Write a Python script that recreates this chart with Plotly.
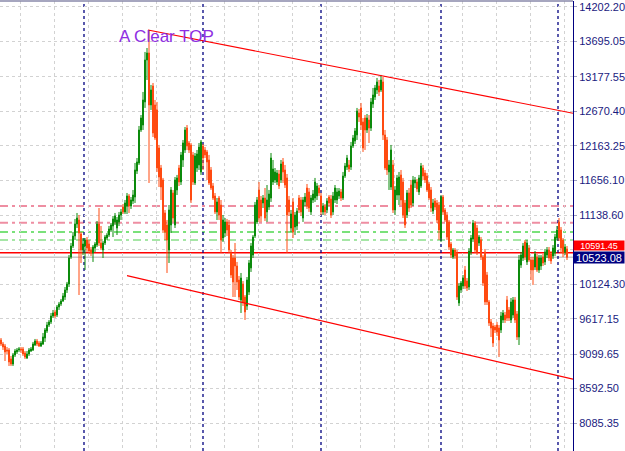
import plotly.graph_objects as go

# ---- candle data (price units), one bar per period ----
opens = [9307,9248,9219,9160,9160,9028,8954,9086,9131,9160,
9175,9175,9116,9042,9101,9145,9160,9233,9292,9263,
9219,9248,9336,9439,9527,9572,9660,9719,9674,9792,
9836,9880,9939,10042,10130,10527,10689,10836,11012,11071,
10865,10630,10689,10777,10718,10630,10586,10659,10703,11012,
10733,10630,10733,10806,10850,10924,10983,11042,10953,11042,
11144,11262,11189,11277,11424,11277,11350,11409,11791,11909,
12394,12467,12806,13423,13526,12762,13041,12762,12688,12129,
11835,11659,11174,10997,10630,10997,11468,10997,11512,11835,
11630,11953,12100,12423,12203,12174,12027,11615,11835,11880,
11777,12159,12100,12071,11953,11806,11571,11424,11189,11394,
11291,10806,10880,11042,10997,10586,10512,10512,10395,10189,
9895,10130,9939,9807,10013,10366,10556,10836,11042,11512,
11365,11321,11394,11189,11262,11394,11630,11659,11630,11747,
11659,11924,11806,11689,11365,10953,11336,10968,10983,11394,
11365,11100,11336,11541,11483,11189,11365,11394,11424,11541,
11424,11189,11262,11218,11409,11380,11189,11365,11365,11424,
11483,11394,11718,11850,11880,11850,12159,12232,12321,12644,
12718,12512,12570,12394,12541,12423,12776,12879,12982,13041,
12982,13100,12321,12247,11777,11556,11880,11218,11438,11438,
11733,11630,11321,11144,11468,11585,11321,11615,11630,11483,
11571,11835,11762,11718,11600,11512,11203,11350,11321,11291,
10806,11409,11218,11144,11042,10718,10527,10630,10586,9851,
10042,10101,10336,10174,10086,10601,10791,11027,10953,10733,
10777,10527,10601,10262,9866,9572,9513,9498,9527,9483,
9454,9601,9674,9895,9748,9601,9674,9895,9689,9351,
10409,10512,10748,10454,10659,10483,10483,10380,10527,10336,
10395,10527,10454,10556,10630,10571,10542,10586,10806,11042,
10924,10777,10601,10645]

highs = [9336,9278,9248,9204,9189,9072,9116,9175,9189,9204,
9204,9204,9145,9145,9189,9204,9278,9322,9322,9292,
9292,9410,9483,9572,9601,9704,9748,9748,9821,9866,
9910,9998,10086,10160,10556,10733,10895,11086,11174,11144,
10895,10806,10806,10821,10777,10674,10703,10748,11056,11247,
10983,10762,10850,10880,10983,11027,11130,11174,11115,11189,
11233,11306,11365,11468,11453,11409,11512,11909,11982,12453,
12614,12953,13541,13599,13864,13056,13085,12835,12806,12174,
11880,11689,11218,11071,11291,11556,11512,11703,11733,11880,
12071,12247,12438,12467,12232,12203,12071,12056,12100,12203,
12247,12188,12144,12100,12027,11850,11615,11468,11394,11424,
11365,11144,11100,11086,11071,10630,10556,10733,10454,10248,
10292,10174,9968,10233,10483,10733,10850,11336,11409,11630,
11424,11438,11541,11585,11512,12056,11953,11835,11806,11806,
11953,11982,11880,11747,11424,11218,11394,11189,11247,11438,
11409,11409,11468,11600,11541,11438,11512,11689,11615,11585,
11468,11321,11306,11394,11438,11438,11483,11585,11541,11541,
11527,11777,11909,12027,11953,12218,12321,12423,12718,12703,
12791,12570,12614,12629,12614,12864,13012,13056,13159,13129,
13203,13174,12394,12291,11953,12174,11953,11571,11733,11777,
11806,11689,11365,11512,11541,11659,11718,11703,11674,11733,
11909,11880,11806,11762,11630,11556,11380,11394,11365,11336,
11438,11438,11247,11189,11071,10748,10659,10659,10630,10145,
10174,10262,10395,10218,10659,10850,11071,11056,10997,10850,
10821,10556,10645,10307,9895,9616,9557,9527,9572,9527,
9719,9748,9719,9954,9792,9924,9939,9939,9733,10556,
10601,10733,10777,10777,10703,10527,10527,10615,10571,10556,
10556,10571,10645,10674,10674,10615,10703,10865,10983,11100,
10968,10806,10718,10689]

lows = [9219,9160,8998,9101,8925,8925,8925,9057,9101,9131,
9116,9072,9028,9028,9072,9131,9145,9219,9219,9204,
9204,9233,9278,9410,9498,9542,9630,9630,9645,9748,
9807,9866,9895,9998,10086,10498,10659,10777,10953,9968,
10439,10556,10336,10601,10571,10542,10454,10601,10674,10689,
10630,10512,10703,10777,10821,10895,10821,10997,10850,10983,
11071,11159,11159,11159,11174,11233,11306,11321,11747,11880,
12365,12394,12718,13129,11615,12688,12291,12247,11777,11556,
11365,10880,10777,10292,10439,10880,11042,10953,11438,11571,
11585,11850,12056,12100,12056,11321,11585,11585,11777,11806,
11733,11806,11982,11659,11585,11512,11365,11159,11071,11071,
10586,10748,10821,10836,10586,10218,9939,9939,10042,9895,
9704,9807,9601,9748,9968,10307,10512,10806,11012,11042,
11042,11247,11056,11042,11218,11336,11585,11615,11585,11527,
11615,11615,11541,10586,11130,10895,10806,10850,10924,11174,
11130,11042,11277,11233,11189,11144,11321,11336,11365,11424,
11144,11144,11144,11174,11277,11100,11144,11321,11306,11380,
11350,11365,11689,11806,11777,11806,12129,12188,12247,12512,
12394,12071,12100,12350,12203,12379,12718,12835,12923,12894,
12953,12247,11806,11733,11512,11512,11174,11144,11365,11291,
11291,11100,10953,11100,11189,11247,11277,11541,11483,11438,
11541,11659,11615,11483,11365,11189,11159,11218,11027,10777,
10748,11144,11042,10777,10630,10512,10498,10498,9895,9807,
9998,10057,10057,10027,10042,10556,10748,10586,10556,10689,
10483,10101,9821,9821,9513,9351,9204,9410,9366,9057,
9410,9557,9557,9586,9586,9557,9630,9557,9307,9233,
10366,10468,10483,10409,10454,10189,10116,10336,10307,10292,
10336,10395,10409,10512,10468,10424,10498,10542,10777,10762,
10586,10527,10556,10483]

closes = [9248,9204,9131,9145,8984,8954,9086,9145,9160,9175,
9160,9101,9057,9101,9160,9175,9248,9292,9248,9219,
9263,9351,9454,9527,9572,9660,9704,9660,9792,9836,
9880,9954,10042,10130,10512,10689,10836,11012,11100,10880,
10630,10718,10777,10659,10615,10586,10674,10718,11012,10733,
10659,10733,10821,10850,10939,10997,11086,11130,11071,11144,
11189,11189,11321,11424,11277,11365,11438,11806,11924,12394,
12570,12835,13423,13526,12762,12982,12350,12277,11835,11703,
11556,10924,10895,10777,11218,11512,11100,11659,11689,11630,
12027,12203,12394,12159,12100,11365,11630,12012,12041,12144,
12218,11982,12027,11924,11615,11541,11394,11189,11336,11144,
10777,11071,11042,10924,10630,10262,10160,10395,10160,9939,
10218,9866,9719,10189,10439,10689,10821,11291,11365,11100,
11130,11394,11100,11365,11453,11982,11821,11777,11762,11571,
11894,11777,11585,11144,11189,11159,10895,11144,11203,11218,
11189,11365,11409,11277,11247,11394,11453,11630,11571,11468,
11189,11277,11189,11350,11321,11144,11424,11541,11483,11497,
11394,11718,11865,11982,11821,12159,12277,12379,12673,12585,
12467,12129,12394,12570,12423,12806,12909,13012,13100,12953,
13129,12321,11835,11806,11880,12100,11218,11512,11689,11703,
11365,11144,10997,11468,11247,11291,11659,11659,11527,11689,
11865,11718,11659,11512,11394,11247,11321,11262,11071,10924,
11409,11189,11071,10821,10674,10556,10630,10542,9939,10101,
10145,10218,10101,10071,10615,10806,11027,10630,10601,10821,
10527,10145,9866,9866,9557,9483,9263,9454,9425,9307,
9660,9704,9601,9630,9630,9866,9895,9601,9351,10483,
10556,10689,10527,10733,10483,10336,10336,10571,10336,10512,
10512,10439,10601,10630,10512,10468,10659,10821,10924,10806,
10659,10586,10674,10523.08]

# ---- axis ticks (the 10631.45 label is hidden under the price boxes) ----
price_ticks = [14202.20, 13695.05, 13177.55, 12670.40, 12163.25, 11656.10,
               11138.60, 10631.45, 10124.30, 9617.15, 9099.65, 8592.50, 8085.35]
hidden_ticks = [10631.45]

# ---- chart objects (levels / trendlines / separators) ----
pink_levels = [11277, 11031]
green_levels = [10895, 10777]
red_level = 10590
bid_price = 10523.08
red_label = "10591.45"
red_label_pos = 10700
period_separators = [41.5, 101, 160, 220, 278.5]
upper_trend = [(73.5, 13864), (286, 12640)]
lower_trend = [(63, 10252), (286, 8730)]
note_text = "A Clear TOP"
note_pos = (82.5, 13761)

bars = list(range(len(closes)))

fig = go.Figure()
fig.add_trace(go.Candlestick(
    x=bars, open=opens, high=highs, low=lows, close=closes,
    increasing=dict(line=dict(color="#0b8a0b", width=1), fillcolor="#0b8a0b"),
    decreasing=dict(line=dict(color="#ff4a10", width=1), fillcolor="#ff4a10"),
    whiskerwidth=0, hoverinfo="skip", showlegend=False,
))

dashdot = "8px,4px,3px,4px"
shapes = []
for lv in pink_levels:
    shapes.append(dict(type="line", xref="paper", x0=0, x1=1, yref="y", y0=lv, y1=lv,
                       line=dict(color="#ee8ea2", width=2, dash=dashdot), layer="below"))
shapes.append(dict(type="line", xref="paper", x0=0, x1=1, yref="y", y0=green_levels[0], y1=green_levels[0],
                   line=dict(color="#4fd84f", width=1.5, dash=dashdot), layer="below"))
shapes.append(dict(type="line", xref="paper", x0=0, x1=1, yref="y", y0=green_levels[1], y1=green_levels[1],
                   line=dict(color="#a6e6a6", width=2, dash=dashdot), layer="below"))
shapes.append(dict(type="line", xref="paper", x0=0, x1=1, yref="y", y0=bid_price, y1=bid_price,
                   line=dict(color="#c8c8c8", width=1.5), layer="below"))
shapes.append(dict(type="line", xref="paper", x0=0, x1=1, yref="y", y0=red_level, y1=red_level,
                   line=dict(color="#ff0000", width=1.5), layer="below"))
for sx in period_separators:
    shapes.append(dict(type="line", xref="x", x0=sx, x1=sx, yref="paper", y0=0, y1=1,
                       line=dict(color="#000080", width=1.3, dash="dot"), layer="below"))
for (p0, p1) in (upper_trend, lower_trend):
    shapes.append(dict(type="line", xref="x", yref="y", x0=p0[0], y0=p0[1], x1=p1[0], y1=p1[1],
                       line=dict(color="#ff0000", width=1.2)))
shapes.append(dict(type="line", xref="paper", yref="paper", x0=0, x1=1, y0=1, y1=1,
                   line=dict(color="#8888aa", width=1.5)))

annotations = [
    dict(x=note_pos[0], y=note_pos[1], xref="x", yref="y", text=note_text, showarrow=False,
         font=dict(family="Liberation Sans, Arial", size=17, color="#8e2de2")),
    dict(x=1, xref="paper", xanchor="left", y=red_label_pos, yref="y", yanchor="middle",
         text=red_label, showarrow=False, bgcolor="#ff0000", width=50, height=9,
         font=dict(family="Liberation Sans, Arial", size=9, color="white"), borderpad=0),
    dict(x=1, xref="paper", xanchor="left", y=bid_price, yref="y", yanchor="middle",
         text=f"{bid_price:.2f}", showarrow=False, bgcolor="#000080", width=50, height=11,
         font=dict(family="Liberation Sans, Arial", size=11, color="white"), borderpad=0),
]

fig.update_layout(
    width=625, height=451,
    margin=dict(l=0, r=52, t=1, b=0),
    paper_bgcolor="white", plot_bgcolor="white",
    shapes=shapes, annotations=annotations,
    showlegend=False,
    xaxis=dict(range=[-0.5, 286], rangeslider=dict(visible=False),
               showticklabels=False, ticks="", zeroline=False,
               tickmode="linear", tick0=9.5, dtick=17,
               showgrid=True, gridcolor="#d2d2d2", griddash="3px,3px", gridwidth=1),
    yaxis=dict(range=[7675, 14290], side="right",
               tickvals=price_ticks,
               ticktext=["" if v in hidden_ticks else f"{v:.2f}" for v in price_ticks],
               tickfont=dict(family="Liberation Sans, Arial", size=11, color="#1a1a80"),
               ticks="outside", ticklen=3, tickcolor="#a0a0c0",
               showline=True, linecolor="#000080", linewidth=1,
               showgrid=True, gridcolor="#d2d2d2", griddash="3px,3px", gridwidth=1,
               zeroline=False),
)

fig.write_html("out.html")
